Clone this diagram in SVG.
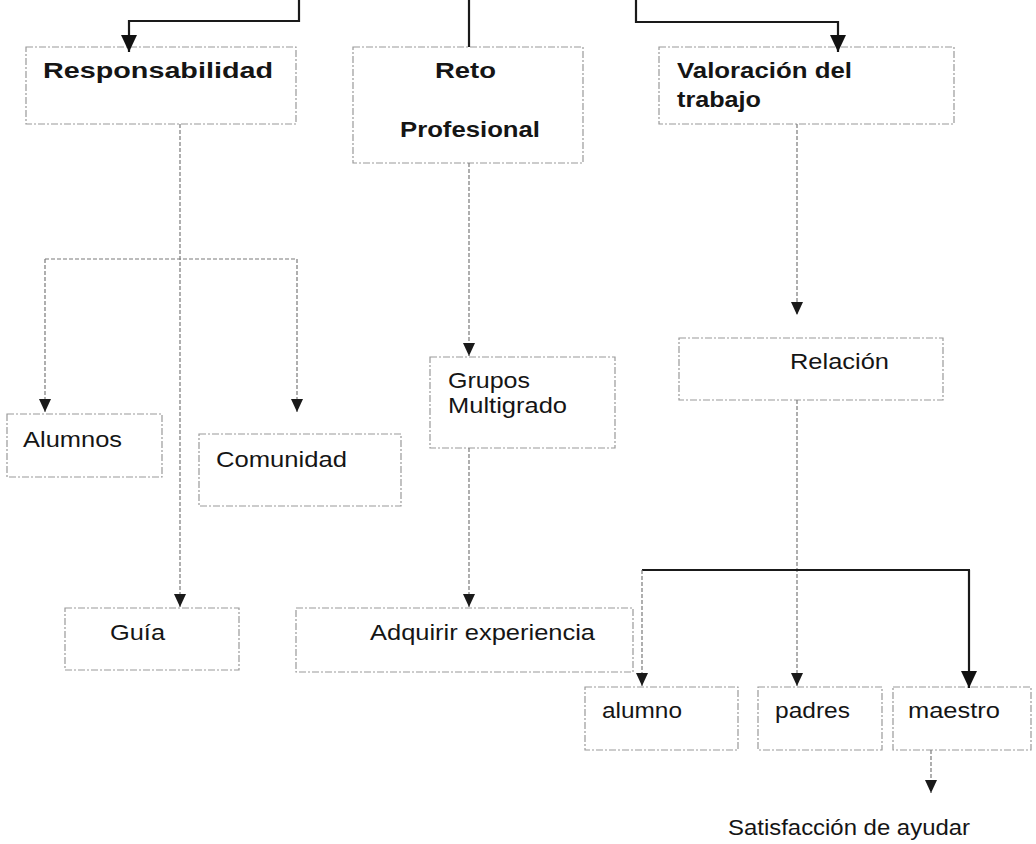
<svg xmlns="http://www.w3.org/2000/svg" width="1036" height="844" viewBox="0 0 1036 844">
<style>
.box{fill:#fff;stroke:#999;stroke-width:1.2;stroke-dasharray:7 2 2 2}
.t{font-family:"Liberation Sans",Arial,sans-serif;font-size:22px;fill:#151515}
.b{font-family:"Liberation Sans",Arial,sans-serif;font-size:22px;font-weight:bold;fill:#151515}
.dash{fill:none;stroke:#7a7a7a;stroke-width:1.2;stroke-dasharray:4 2}
.solid{fill:none;stroke:#1a1a1a;stroke-width:2.2}
</style>
<defs>
<marker id="sa" markerUnits="userSpaceOnUse" markerWidth="14" markerHeight="13" refX="13" refY="6" orient="auto" viewBox="0 0 14 13">
<path d="M0,0 L13,6 L0,12 z" fill="#1a1a1a"/>
</marker>
<marker id="ba" markerUnits="userSpaceOnUse" markerWidth="18" markerHeight="16" refX="17" refY="8" orient="auto" viewBox="0 0 18 16">
<path d="M0,0 L17,8 L0,16 z" fill="#111"/>
</marker>
</defs>
<rect width="1036" height="844" fill="#fff"/>

<g id="n-responsabilidad"><rect class="box" x="26" y="47" width="270" height="77"/><text class="b" x="43" y="78" textLength="230" lengthAdjust="spacingAndGlyphs">Responsabilidad</text></g>
<g id="n-reto"><rect class="box" x="353" y="47" width="230" height="116"/><text class="b" x="435" y="78" textLength="61" lengthAdjust="spacingAndGlyphs">Reto</text><text class="b" x="400" y="137" textLength="140" lengthAdjust="spacingAndGlyphs">Profesional</text></g>
<g id="n-valoracion"><rect class="box" x="659" y="47" width="295" height="77"/><text class="b" x="677" y="78" textLength="175" lengthAdjust="spacingAndGlyphs">Valoración del</text><text class="b" x="677" y="107" textLength="84" lengthAdjust="spacingAndGlyphs">trabajo</text></g>
<g id="n-alumnos"><rect class="box" x="7" y="414" width="155" height="63"/><text class="t" x="23" y="447" textLength="99" lengthAdjust="spacingAndGlyphs">Alumnos</text></g>
<g id="n-comunidad"><rect class="box" x="199" y="434" width="202" height="72"/><text class="t" x="216" y="467" textLength="131" lengthAdjust="spacingAndGlyphs">Comunidad</text></g>
<g id="n-grupos"><rect class="box" x="430" y="357" width="185" height="91"/><text class="t" x="448" y="388" textLength="82" lengthAdjust="spacingAndGlyphs">Grupos</text><text class="t" x="448" y="413" textLength="119" lengthAdjust="spacingAndGlyphs">Multigrado</text></g>
<g id="n-relacion"><rect class="box" x="679" y="338" width="264" height="62"/><text class="t" x="790" y="369" textLength="99" lengthAdjust="spacingAndGlyphs">Relación</text></g>
<g id="n-guia"><rect class="box" x="65" y="608" width="174" height="62"/><text class="t" x="110" y="640" textLength="55" lengthAdjust="spacingAndGlyphs">Guía</text></g>
<g id="n-adquirir"><rect class="box" x="296" y="608" width="337" height="64"/><text class="t" x="370" y="640" textLength="225" lengthAdjust="spacingAndGlyphs">Adquirir experiencia</text></g>
<g id="n-alumno"><rect class="box" x="585" y="687" width="153" height="63"/><text class="t" x="602" y="718" textLength="80" lengthAdjust="spacingAndGlyphs">alumno</text></g>
<g id="n-padres"><rect class="box" x="758" y="687" width="124" height="63"/><text class="t" x="775" y="718" textLength="75" lengthAdjust="spacingAndGlyphs">padres</text></g>
<g id="n-maestro"><rect class="box" x="893" y="687" width="138" height="63"/><text class="t" x="908" y="718" textLength="92" lengthAdjust="spacingAndGlyphs">maestro</text></g>
<g id="n-satisfaccion"><text class="t" x="728" y="835" textLength="242" lengthAdjust="spacingAndGlyphs">Satisfacción de ayudar</text></g>

<g id="connectors">
<polyline class="solid" points="299,0 299,21 129,21 129,52" marker-end="url(#ba)"/>
<line class="solid" x1="469" y1="0" x2="469" y2="47"/>
<polyline class="solid" points="636,0 636,22 838,22 838,52" marker-end="url(#ba)"/>
<line class="dash" x1="180" y1="124" x2="180" y2="607" marker-end="url(#sa)"/>
<line class="dash" x1="45" y1="259" x2="297" y2="259"/>
<line class="dash" x1="45" y1="259" x2="45" y2="412" marker-end="url(#sa)"/>
<line class="dash" x1="297" y1="259" x2="297" y2="412" marker-end="url(#sa)"/>
<line class="dash" x1="469" y1="163" x2="469" y2="356" marker-end="url(#sa)"/>
<line class="dash" x1="469" y1="448" x2="469" y2="607" marker-end="url(#sa)"/>
<line class="dash" x1="797" y1="124" x2="797" y2="315" marker-end="url(#sa)"/>
<line class="dash" x1="797" y1="400" x2="797" y2="686" marker-end="url(#sa)"/>
<line class="solid" x1="642" y1="570" x2="970" y2="570"/>
<line class="dash" x1="642" y1="570" x2="642" y2="686" marker-end="url(#sa)"/>
<line class="solid" x1="969" y1="570" x2="969" y2="688" marker-end="url(#ba)"/>
<line class="dash" x1="931" y1="750" x2="931" y2="793" marker-end="url(#sa)"/>
</g>
</svg>
